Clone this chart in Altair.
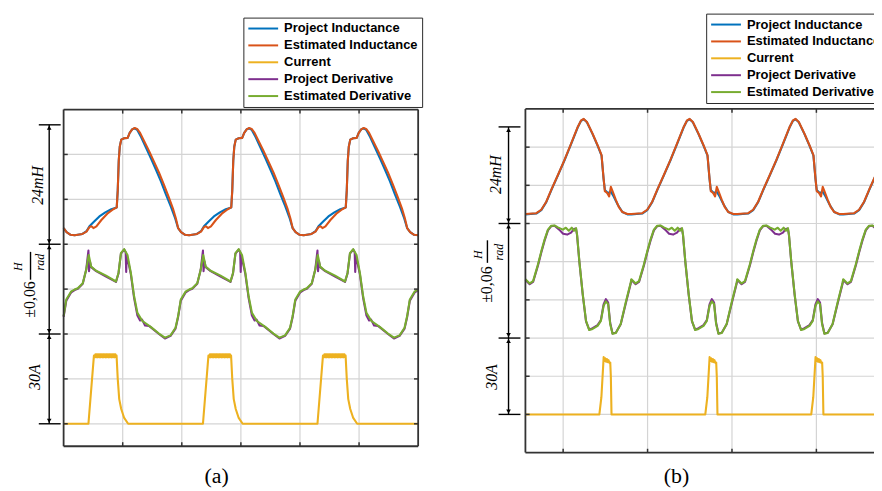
import altair as alt
import pandas as pd

SERIES = ["Project Inductance", "Estimated Inductance", "Current",
          "Project Derivative", "Estimated Derivative"]
COLORS = ["#0072BD", "#D95319", "#EDB120", "#7E2F8E", "#77AC30"]

# ---------------- panel (a): one period, grid-division units ----------------
PERIOD_A = 1.938
A_XMAX = 6.0

a_pind_t = [0.0, 0.05, 0.118, 0.186, 0.319, 0.387, 0.437, 0.521, 0.605, 0.706,
            0.807, 0.899, 0.916, 0.933, 0.950, 0.975, 1.025, 1.084, 1.118, 1.160,
            1.202, 1.244, 1.311, 1.395, 1.479, 1.563, 1.647, 1.731, 1.815, 1.882]
a_pind_v = [4.36, 4.27, 4.21, 4.20, 4.23, 4.29, 4.40, 4.51, 4.62, 4.71,
            4.78, 4.82, 5.20, 5.86, 6.17, 6.33, 6.36, 6.37, 6.48, 6.56,
            6.58, 6.55, 6.39, 6.15, 5.91, 5.66, 5.40, 5.11, 4.84, 4.60]

a_eind_t = [0.0, 0.05, 0.118, 0.186, 0.319, 0.387, 0.437, 0.471, 0.504, 0.555,
            0.639, 0.739, 0.840, 0.899, 0.916, 0.933, 0.950, 0.975, 1.025, 1.084,
            1.118, 1.160, 1.202, 1.244, 1.294, 1.361, 1.445, 1.529, 1.613, 1.697,
            1.782, 1.849, 1.899]
a_eind_v = [4.36, 4.27, 4.21, 4.20, 4.23, 4.28, 4.38, 4.40, 4.36, 4.40,
            4.54, 4.68, 4.78, 4.82, 5.20, 5.86, 6.17, 6.33, 6.36, 6.37,
            6.48, 6.56, 6.59, 6.57, 6.48, 6.30, 6.08, 5.84, 5.60, 5.33,
            5.04, 4.80, 4.58]

a_cur_t = [0.0, 0.186, 0.420, 0.513,
           0.525, 0.538, 0.551, 0.564, 0.577, 0.590, 0.603, 0.616, 0.629, 0.642,
           0.655, 0.668, 0.681, 0.694, 0.707, 0.720, 0.733, 0.746, 0.759, 0.772,
           0.785, 0.798, 0.811, 0.824, 0.837, 0.850, 0.863, 0.876, 0.889,
           0.896, 0.916, 0.941, 0.975, 1.025, 1.092, 1.900]
a_cur_v = [0, 0, 0, 1.52,
           1.48, 1.55, 1.48, 1.55, 1.48, 1.55, 1.48, 1.55, 1.48, 1.55,
           1.48, 1.55, 1.48, 1.55, 1.48, 1.55, 1.48, 1.55, 1.48, 1.55,
           1.48, 1.55, 1.48, 1.55, 1.48, 1.55, 1.48, 1.55, 1.48,
           1.52, 1.00, 0.55, 0.33, 0.13, 0, 0]

a_pder_t = [0.0, 0.045, 0.129, 0.186, 0.240, 0.324, 0.382, 0.420, 0.430, 0.445,
            0.466, 0.550, 0.718, 0.886, 0.929, 0.970, 1.025, 1.050, 1.059, 1.067,
            1.092, 1.138, 1.193, 1.249, 1.294, 1.328, 1.378, 1.445, 1.613, 1.714,
            1.810, 1.894]
a_pder_v = [2.38, 2.74, 2.93, 2.98, 3.01, 3.12, 3.43, 3.86, 3.40, 3.62,
            3.49, 3.40, 3.28, 3.16, 3.35, 3.79, 3.88, 3.82, 3.38, 3.74,
            3.62, 3.33, 2.80, 2.41, 2.30, 2.32, 2.19, 2.18, 2.00, 1.90,
            1.96, 2.12]

a_eder_t = [0.0, 0.045, 0.129, 0.186, 0.240, 0.324, 0.382, 0.425, 0.466, 0.550,
            0.718, 0.886, 0.929, 0.970, 1.025, 1.081, 1.138, 1.193, 1.249, 1.333,
            1.474, 1.613, 1.714, 1.810, 1.894]
a_eder_v = [2.40, 2.77, 2.95, 2.99, 3.02, 3.13, 3.43, 3.76, 3.50, 3.41,
            3.30, 3.17, 3.36, 3.80, 3.89, 3.76, 3.36, 2.84, 2.47, 2.29,
            2.16, 2.01, 1.92, 1.97, 2.14]

# ---------------- panel (b): one period, grid-division units ----------------
PERIOD_B = 1.255
B_XMAX = 5.0

b_pind_t = [0.0, 0.129, 0.188, 0.247, 0.306, 0.385, 0.462, 0.541, 0.620, 0.659,
            0.691, 0.729, 0.796, 0.855, 0.902, 0.926, 0.941, 0.976, 1.012, 1.047,
            1.094, 1.149, 1.208]
b_pind_v = [5.24, 5.26, 5.35, 5.56, 5.87, 6.26, 6.65, 7.08, 7.52, 7.69,
            7.73, 7.65, 7.34, 7.04, 6.78, 6.17, 5.88, 5.80, 5.83, 5.70,
            5.49, 5.30, 5.24]

b_eind_t = [0.0, 0.129, 0.188, 0.247, 0.306, 0.385, 0.462, 0.541, 0.620, 0.659,
            0.691, 0.729, 0.796, 0.855, 0.902, 0.926, 0.941, 0.965, 0.992, 1.012,
            1.032, 1.071, 1.109, 1.149, 1.208]
b_eind_v = [5.25, 5.27, 5.36, 5.57, 5.88, 6.27, 6.66, 7.09, 7.53, 7.70,
            7.74, 7.66, 7.35, 7.05, 6.79, 6.18, 5.85, 5.81, 5.71, 5.96,
            5.85, 5.62, 5.42, 5.30, 5.25]

b_cur_t = [0.0, 0.876, 0.900, 0.927, 0.935, 0.945, 0.955, 0.965, 0.975, 0.985,
           0.995, 1.005, 1.012, 1.020, 1.250]
b_cur_v = [0, 0, 0.45, 1.50, 1.40, 1.47, 1.38, 1.45, 1.37, 1.42,
           1.35, 1.36, 1.00, 0, 0]

b_pder_t = [0.0, 0.051, 0.091, 0.149, 0.188, 0.227, 0.267, 0.306, 0.345, 0.400,
            0.447, 0.494, 0.541, 0.576, 0.600, 0.612, 0.639, 0.679, 0.718, 0.756,
            0.796, 0.855, 0.894, 0.926, 0.953, 0.980, 1.004, 1.032, 1.071, 1.129,
            1.188, 1.247]
b_pder_v = [3.52, 3.41, 3.47, 3.90, 4.24, 4.55, 4.82, 4.93, 4.94, 4.84,
            4.73, 4.71, 4.76, 4.86, 4.86, 4.69, 4.00, 3.14, 2.44, 2.22,
            2.26, 2.34, 2.47, 2.88, 3.02, 2.93, 2.40, 2.12, 2.14, 2.36,
            2.90, 3.42]

b_eder_t = [0.0, 0.051, 0.091, 0.149, 0.188, 0.227, 0.267, 0.306, 0.345, 0.385,
            0.444, 0.479, 0.514, 0.549, 0.576, 0.600, 0.612, 0.639, 0.679, 0.718,
            0.756, 0.796, 0.855, 0.894, 0.926, 0.953, 0.980, 1.004, 1.032, 1.071,
            1.129, 1.188, 1.247]
b_eder_v = [3.54, 3.43, 3.49, 3.93, 4.27, 4.58, 4.84, 4.94, 4.95, 4.90,
            4.84, 4.89, 4.81, 4.89, 4.81, 4.88, 4.71, 4.01, 3.15, 2.45,
            2.21, 2.24, 2.32, 2.45, 2.84, 2.96, 2.89, 2.37, 2.11, 2.13,
            2.37, 2.93, 3.45]

# grid lines (division units)
A_GRID_X = [1, 2, 3, 4, 5]
A_GRID_Y = [0, 1, 2, 3, 4, 5, 6]
B_GRID_X = [0.447, 1.447, 2.447, 3.447]
B_GRID_Y = [0, 1, 2, 3, 4, 5, 6, 7]

# scale-bar annotations
A_BARS = [6.66, 4, 2, 0]
B_BARS = [7.53, 5, 2, 0]

# ---------------- layout ----------------
W, H = 872, 481
XA = alt.Scale(domain=[-0.9412, 13.7143], nice=False, zero=False)
YA = alt.Scale(domain=[-1.4159, 9.2257], nice=False, zero=False)
XB = alt.Scale(domain=[-6.1294, 4.1294], nice=False, zero=False)
YB = alt.Scale(domain=[-1.910, 10.601], nice=False, zero=False)


def tile(t, v, period, n, xmax):
    xs, ys = [], []
    for k in range(n):
        for tt, vv in zip(t, v):
            x = tt + k * period
            if x <= xmax + 1e-9:
                xs.append(round(x, 4))
                ys.append(vv)
    return xs, ys


def lines_df(data, period, n, xmax):
    rows = []
    for name, (t, v) in zip(SERIES, data):
        xs, ys = tile(t, v, period, n, xmax)
        for i, (x, y) in enumerate(zip(xs, ys)):
            rows.append({"x": x, "y": y, "series": name, "i": i})
    return pd.DataFrame(rows)


def enc_xy(xs, ys, x="x", y="y"):
    return dict(x=alt.X(f"{x}:Q", scale=xs, axis=None),
                y=alt.Y(f"{y}:Q", scale=ys, axis=None))


def rules(df, xs, ys, color, width, opacity=1.0):
    return alt.Chart(df).mark_rule(color=color, strokeWidth=width, opacity=opacity).encode(
        x=alt.X("x:Q", scale=xs, axis=None), x2="x2:Q",
        y=alt.Y("y:Q", scale=ys, axis=None), y2="y2:Q")


def texts(df, xs, ys, size, style="normal", angle=270):
    return alt.Chart(df).mark_text(angle=angle, font="Liberation Serif", fontSize=size,
                                   fontStyle=style, align="center", baseline="middle",
                                   color="black").encode(text="text:N", **enc_xy(xs, ys))


def panel(data, period, n, xmin, xmax, ymin, ymax, gx, gy, frame_right, bars, arrow_x,
          bar_x0, bar_x1, lab, cap, leg_xy, xs, ys, tick_dx, tick_dy):
    ld = lines_df(data, period, n, xmax)
    grid = pd.DataFrame(
        [{"x": g, "x2": g, "y": ymin, "y2": ymax} for g in gx] +
        [{"x": xmin, "x2": xmax, "y": g, "y2": g} for g in gy])
    tk = []
    for g in gx:
        tk.append({"x": g, "x2": g, "y": ymax, "y2": ymax - tick_dy})
        tk.append({"x": g, "x2": g, "y": ymin, "y2": ymin + tick_dy})
    for g in gy:
        tk.append({"x": xmin, "x2": xmin + tick_dx, "y": g, "y2": g})
        if frame_right:
            tk.append({"x": xmax, "x2": xmax - tick_dx, "y": g, "y2": g})
    frame = [{"x": xmin, "x2": xmin, "y": ymin, "y2": ymax},
             {"x": xmin, "x2": xmax, "y": ymax, "y2": ymax},
             {"x": xmin, "x2": xmax, "y": ymin, "y2": ymin}]
    if frame_right:
        frame.append({"x": xmax, "x2": xmax, "y": ymin, "y2": ymax})
    ann = [{"x": arrow_x, "x2": arrow_x, "y": bars[-1], "y2": bars[0]}]
    ann += [{"x": bar_x0, "x2": bar_x1, "y": b, "y2": b} for b in bars]
    ann.append({"x": lab["bar"][0], "x2": lab["bar"][0], "y": lab["bar"][1], "y2": lab["bar"][2]})
    heads_up = pd.DataFrame([{"x": arrow_x, "y": b} for b in bars[:-1]])
    heads_dn = pd.DataFrame([{"x": arrow_x, "y": b} for b in bars[1:]])

    legend = alt.Legend(orient="none", legendX=leg_xy[0], legendY=leg_xy[1], title=None,
                        symbolType="M-1,0L4,0", symbolSize=144, symbolStrokeWidth=2,
                        labelFont="Liberation Sans", labelFontSize=13, labelFontWeight="bold",
                        labelColor="black", strokeColor="#2a2a2a", fillColor="white",
                        padding=4, rowPadding=3, labelOffset=23, labelLimit=300)
    lines = alt.Chart(ld).mark_line(strokeWidth=2.1, strokeJoin="round").encode(
        color=alt.Color("series:N", scale=alt.Scale(domain=SERIES, range=COLORS), legend=legend),
        order=alt.Order("i:Q"), **enc_xy(xs, ys))

    layers = [
        rules(grid, xs, ys, "#d4d4d4", 1.2),
        lines,
        rules(pd.DataFrame(tk), xs, ys, "#333333", 1.5),
        rules(pd.DataFrame(frame), xs, ys, "#333333", 1.8),
        rules(pd.DataFrame(ann), xs, ys, "black", 1.4),
        alt.Chart(heads_up).mark_point(shape="triangle-up", filled=True, size=22, color="black",
                                       opacity=1, yOffset=3).encode(**enc_xy(xs, ys)),
        alt.Chart(heads_dn).mark_point(shape="triangle-down", filled=True, size=22, color="black",
                                       opacity=1, yOffset=-3).encode(**enc_xy(xs, ys)),
        texts(pd.DataFrame(lab["big"]), xs, ys, 16, "italic"),
        texts(pd.DataFrame(lab["num"]), xs, ys, 16, "normal"),
        texts(pd.DataFrame(lab["small"]), xs, ys, 12, "italic"),
        texts(pd.DataFrame([cap]), xs, ys, 22, "normal", angle=0),
    ]
    return alt.layer(*layers)


lab_a = {
    "big": [{"x": -0.437, "y": 5.31, "text": "24mH"}, {"x": -0.487, "y": 1.04, "text": "30A"}],
    "num": [{"x": -0.571, "y": 2.77, "text": "±0,06"}],
    "small": [{"x": -0.765, "y": 3.50, "text": "H"}, {"x": -0.403, "y": 3.60, "text": "rad"}],
    "bar": (-0.56, 3.21, 3.83),
}
lab_b = {
    "big": [{"x": -0.353, "y": 6.28, "text": "24mH"}, {"x": -0.40, "y": 0.98, "text": "30A"}],
    "num": [{"x": -0.459, "y": 3.40, "text": "±0,06"}],
    "small": [{"x": -0.565, "y": 4.18, "text": "H"}, {"x": -0.318, "y": 4.25, "text": "rad"}],
    "bar": (-0.45, 3.97, 4.56),
}

panel_a = panel([(a_pind_t, a_pind_v), (a_eind_t, a_eind_v), (a_cur_t, a_cur_v),
                 (a_pder_t, a_pder_v), (a_eder_t, a_eder_v)],
                PERIOD_A, 4, 0, A_XMAX, -0.5, 7, A_GRID_X, A_GRID_Y, True, A_BARS,
                -0.244, -0.42, -0.05, lab_a, {"x": 2.59, "y": -1.17, "text": "(a)"},
                (237, 8), XA, YA, 0.07, 0.09)
panel_b = panel([(b_pind_t, b_pind_v), (b_eind_t, b_eind_v), (b_cur_t, b_cur_v),
                 (b_pder_t, b_pder_v), (b_eder_t, b_eder_v)],
                PERIOD_B, 4, 0, B_XMAX, -1, 8, B_GRID_X, B_GRID_Y, False, B_BARS,
                -0.2, -0.318, -0.059, lab_b, {"x": 1.79, "y": -1.62, "text": "(b)"},
                (703, 4), XB, YB, 0.05, 0.1)

chart = alt.layer(panel_a, panel_b).resolve_scale(
    x="independent", y="independent", color="independent"
).properties(
    width=W, height=H, padding=0, background="white",
    autosize=alt.AutoSizeParams(type="none"),
).configure_view(stroke="transparent")

chart.save("out.html", embed_options={"renderer": "svg", "actions": False})
